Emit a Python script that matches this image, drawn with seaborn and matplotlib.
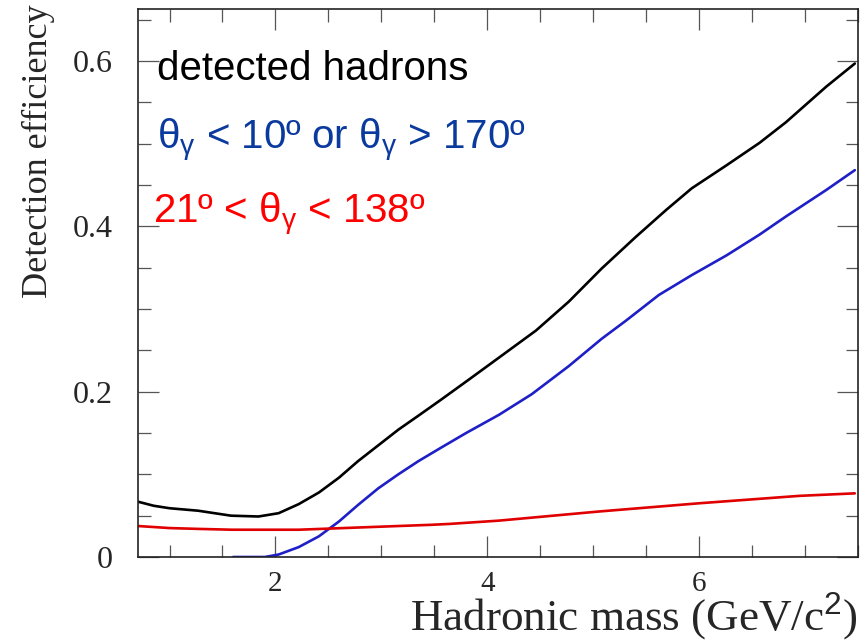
import matplotlib
matplotlib.use('Agg')
import matplotlib.pyplot as plt
import seaborn as sns
from matplotlib.ticker import MultipleLocator

# Values
hadrons_x = [0.70, 0.85, 1.00, 1.27, 1.58, 1.84, 2.03, 2.22, 2.41, 2.60, 2.78, 2.97, 3.16, 3.35,
             3.56, 3.83, 4.14, 4.46, 4.77, 5.08, 5.40, 5.69, 5.93, 6.26, 6.57, 6.82, 7.20, 7.47]
hadrons_y = [0.067, 0.062, 0.059, 0.056, 0.050, 0.049, 0.053, 0.064, 0.078, 0.096, 0.116, 0.135, 0.154, 0.171,
             0.190, 0.215, 0.244, 0.274, 0.309, 0.349, 0.387, 0.420, 0.446, 0.474, 0.501, 0.526, 0.569, 0.597]

forward_x = [1.60, 1.90, 2.03, 2.22, 2.41, 2.60, 2.78, 2.97, 3.16, 3.35, 3.56, 3.80, 4.11, 4.42,
             4.77, 5.08, 5.31, 5.62, 5.93, 6.26, 6.57, 6.82, 7.20, 7.47]
forward_y = [0.0, 0.0, 0.003, 0.012, 0.025, 0.043, 0.063, 0.083, 0.100, 0.116, 0.132, 0.150, 0.172, 0.197,
             0.231, 0.264, 0.286, 0.317, 0.341, 0.365, 0.390, 0.412, 0.444, 0.468]

barrel_x = [0.70, 1.00, 1.27, 1.59, 2.22, 2.85, 3.48, 3.64, 4.11, 5.05, 6.00, 6.95, 7.47]
barrel_y = [0.0375, 0.035, 0.034, 0.033, 0.033, 0.036, 0.039, 0.040, 0.044, 0.055, 0.065, 0.074, 0.077]

y_ticks = [0, 0.2, 0.4, 0.6]
y_ticklabels = ['0', '0.2', '0.4', '0.6']
x_ticks = [2, 4, 6]

sns.set_style('ticks')
plt.rcParams['font.family'] = ['Liberation Serif', 'DejaVu Serif']
plt.rcParams['mathtext.fontset'] = 'custom'
plt.rcParams['mathtext.rm'] = 'Liberation Sans'
plt.rcParams['mathtext.it'] = 'Liberation Sans'

fig = plt.figure(figsize=(8.61, 6.42), dpi=100)
ax = fig.add_axes([0.160, 0.1324, 0.8365, 0.8536])

sns.lineplot(x=hadrons_x, y=hadrons_y, color='black', lw=1.9, ax=ax)
sns.lineplot(x=forward_x, y=forward_y, color='#1f1fc8', lw=1.9, ax=ax)
sns.lineplot(x=barrel_x, y=barrel_y, color='#e00000', lw=1.9, ax=ax)

ax.set_xlim(0.7, 7.5)
ax.set_ylim(0, 0.663)
ax.set_xticks(x_ticks)
ax.set_xticklabels([str(t) for t in x_ticks])
ax.set_yticks(y_ticks)
ax.set_yticklabels(y_ticklabels)
ax.xaxis.set_minor_locator(MultipleLocator(0.5))
ax.yaxis.set_minor_locator(MultipleLocator(0.05))
ax.tick_params(which='both', direction='in', top=True, right=True, color='#555555', width=0.9)
ax.tick_params(which='major', length=15)
ax.tick_params(which='minor', length=9)
ax.tick_params(axis='x', pad=10, labelsize=21)
ax.tick_params(axis='y', pad=18, labelsize=23)
for s in ax.spines.values():
    s.set_linewidth(1.2)
    s.set_color('#222222')

ax.set_xlabel('Hadronic mass (GeV/c$^{2}$)', fontsize=32.5)
ax.xaxis.label.set_horizontalalignment('right')
ax.xaxis.label.set_verticalalignment('baseline')
ax.xaxis.set_label_coords(1.0, -0.1350)
ax.set_ylabel('Detection efficiency', loc='top', fontsize=26)
ax.yaxis.set_label_coords(-0.115, 1.008)

sans = ['Liberation Sans', 'DejaVu Sans']
ax.text(0.027, 0.870, 'detected hadrons', transform=ax.transAxes, fontsize=29,
        family=sans, color='black', va='baseline')
ax.text(0.027, 0.743, 'θ$_\\gamma$ < 10º or θ$_\\gamma$ > 170º', transform=ax.transAxes,
        fontsize=29, family=sans, color='#0a3a9e', va='baseline')
ax.text(0.021, 0.609, '21º < θ$_\\gamma$ < 138º', transform=ax.transAxes, fontsize=29,
        family=sans, color='#ff0000', va='baseline')

fig.savefig('out.png', dpi=100)
